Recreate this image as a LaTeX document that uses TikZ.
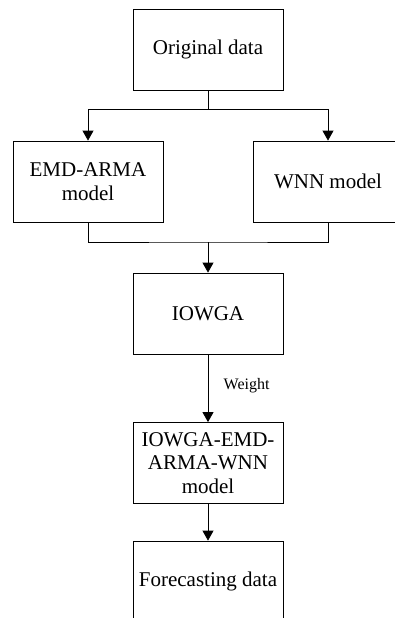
\documentclass[tikz,border=0pt]{standalone}
\usepackage{fontspec}
\setmainfont{Liberation Serif}
\usetikzlibrary{arrows.meta}

\begin{document}
\begin{tikzpicture}[x=1pt, y=1pt, >={Triangle[length=10pt,width=11pt]}, line width=0.8pt,
    blok/.style={draw, minimum width=150pt, minimum height=81pt, inner sep=2pt, align=center, font=\fontsize{21}{23.5}\selectfont}]
    \useasboundingbox (0,0) rectangle (394,-618);
    % cajas
    \node[blok] (orig) at (208,-49.5) {Original data};
    \node[blok] (emd) at (88,-181.5) {EMD-ARMA\\model};
    \node[blok] (wnn) at (328,-181.5) {WNN model};
    \node[blok] (iowga) at (208,-313.5) {IOWGA};
    \node[blok] (hybrid) at (208,-463) {IOWGA-EMD-\\ARMA-WNN\\model};
    \node[blok] (fore) at (208,-581.5) {Forecasting data};
    % ramas
    \coordinate (split) at (208,-109);
    \coordinate (merge) at (208,-242);
    \draw (orig.south) -- (split);
    \draw[->] (split) -| (emd.north);
    \draw[->] (split) -| (wnn.north);
    \draw (emd.south) |- (merge) -| (wnn.south);
    \draw[->] (merge) -- (iowga.north);
    \draw[->] (iowga.south) -- node[right, xshift=12pt, yshift=3pt, font=\fontsize{16}{18}\selectfont]{Weight} (hybrid.north);
    \draw[->] (hybrid.south) -- (fore.north);
\end{tikzpicture}
\end{document}
